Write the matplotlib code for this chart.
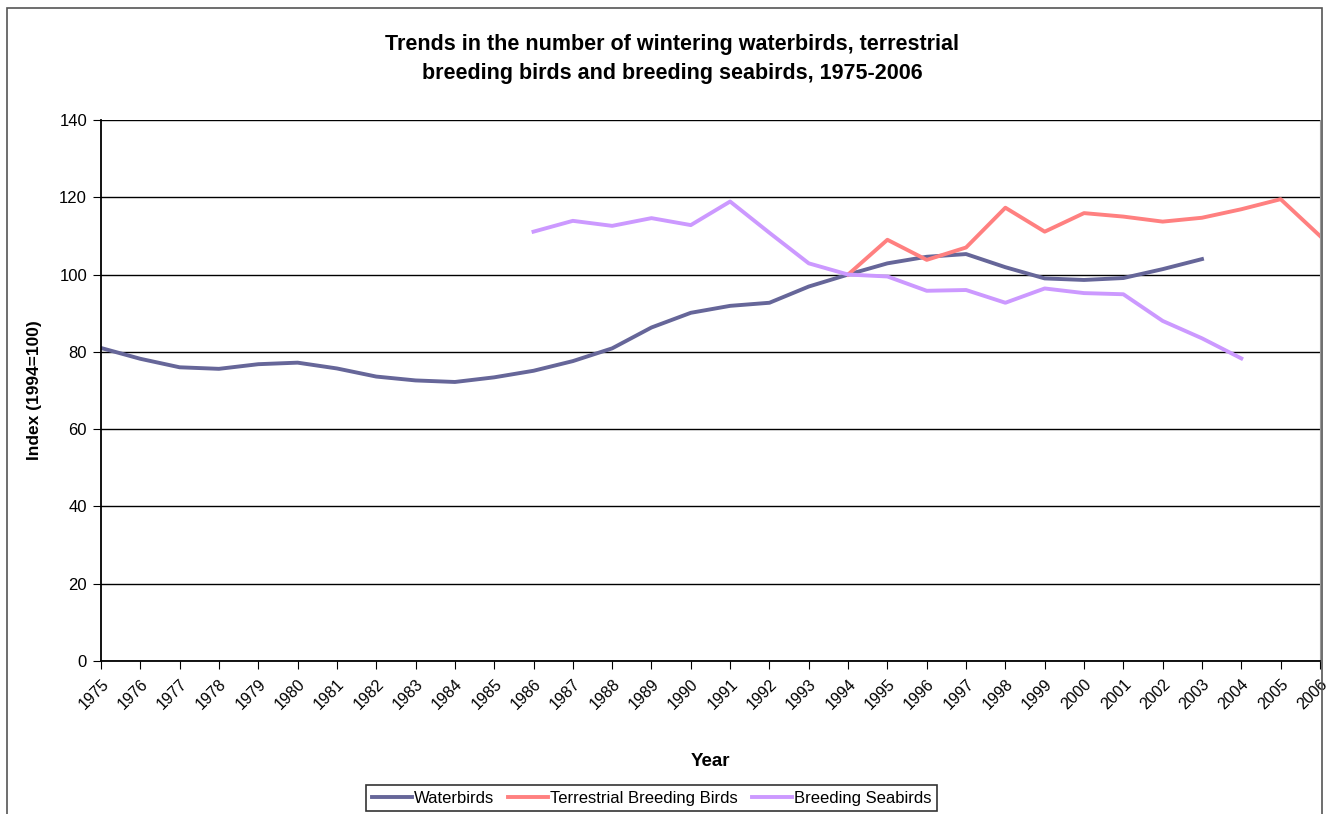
import numpy as np
import matplotlib.pyplot as plt
from matplotlib.patches import Rectangle

plt.rcParams['font.family'] = ['Liberation Sans', 'DejaVu Sans']

years = list(range(1975, 2007))

waterbirds = [81.0, 78.2, 76.0, 75.6, 76.8, 77.2, 75.7, 73.6, 72.6, 72.2, 73.4, 75.1,
              77.6, 80.9, 86.3, 90.1, 91.9, 92.7, 96.9, 100.0, 102.9, 104.6, 105.3,
              101.9, 99.0, 98.6, 99.1, 101.4, 104.0, None, None, None]

terrestrial = [None] * 19 + [100.0, 109.0, 103.8, 107.0, 117.3, 111.1, 115.9, 115.0,
                             113.7, 114.7, 116.9, 119.5, 110.0]

seabirds = [None] * 11 + [111.1, 113.9, 112.6, 114.6, 112.8, 118.9, 110.8, 102.9, 100.0,
                          99.5, 95.8, 96.0, 92.7, 96.4, 95.2, 94.9, 88.0, 83.5, 78.3,
                          None, None]


def arr(v):
    return np.array([np.nan if x is None else x for x in v], dtype=float)


fig = plt.figure(figsize=(13.41, 8.14), dpi=100)
ax = fig.add_axes([0.0753, 0.188, 0.909, 0.6646])

ax.plot(years, arr(waterbirds), color='#666699', lw=2.8, label='Waterbirds')
ax.plot(years, arr(terrestrial), color='#FF8080', lw=2.8, label='Terrestrial Breeding Birds')
ax.plot(years, arr(seabirds), color='#CC99FF', lw=2.8, label='Breeding Seabirds')

ax.set_xlim(1975, 2006)
ax.set_ylim(0, 140)
ax.set_yticks(range(0, 141, 20))
ax.set_xticks(years)
ax.set_xticklabels([str(y) for y in years], rotation=45, ha='right', va='top',
                   rotation_mode='anchor', fontsize=11.5)
ax.tick_params(axis='y', labelsize=12, length=6, direction='out', pad=4)
ax.tick_params(axis='x', length=6, direction='out', pad=5)
ax.yaxis.grid(True, color='black', lw=1.0)
ax.set_axisbelow(True)

ax.spines['top'].set_visible(False)
ax.spines['right'].set_color('#999999')
ax.spines['left'].set_linewidth(1.3)
ax.spines['bottom'].set_linewidth(1.3)

fig.text(0.026, 0.521, 'Index (1994=100)', fontsize=12.5, fontweight='bold',
         rotation=90, ha='center', va='center')
fig.text(0.530, 0.065, 'Year', fontsize=13.5, fontweight='bold', ha='center', va='center')

fig.text(0.501, 0.9275, 'Trends in the number of wintering waterbirds, terrestrial\n'
         'breeding birds and breeding seabirds, 1975-2006',
         fontsize=15.5, fontweight='bold', ha='center', va='center', linespacing=1.5)

leg = fig.legend(loc='upper center', bbox_to_anchor=(0.486, 0.036), ncol=3,
                 fontsize=12, frameon=True, fancybox=False, edgecolor='black',
                 handlelength=2.4, handletextpad=0.15, columnspacing=0.8,
                 borderpad=0.35, borderaxespad=0)
leg.get_frame().set_linewidth(1.2)

fig.patches.append(Rectangle((0.0052, -0.02), 0.9806, 1.0102, transform=fig.transFigure,
                             fill=False, edgecolor='#555555', lw=1.2))

fig.savefig('out.png', dpi=100)
